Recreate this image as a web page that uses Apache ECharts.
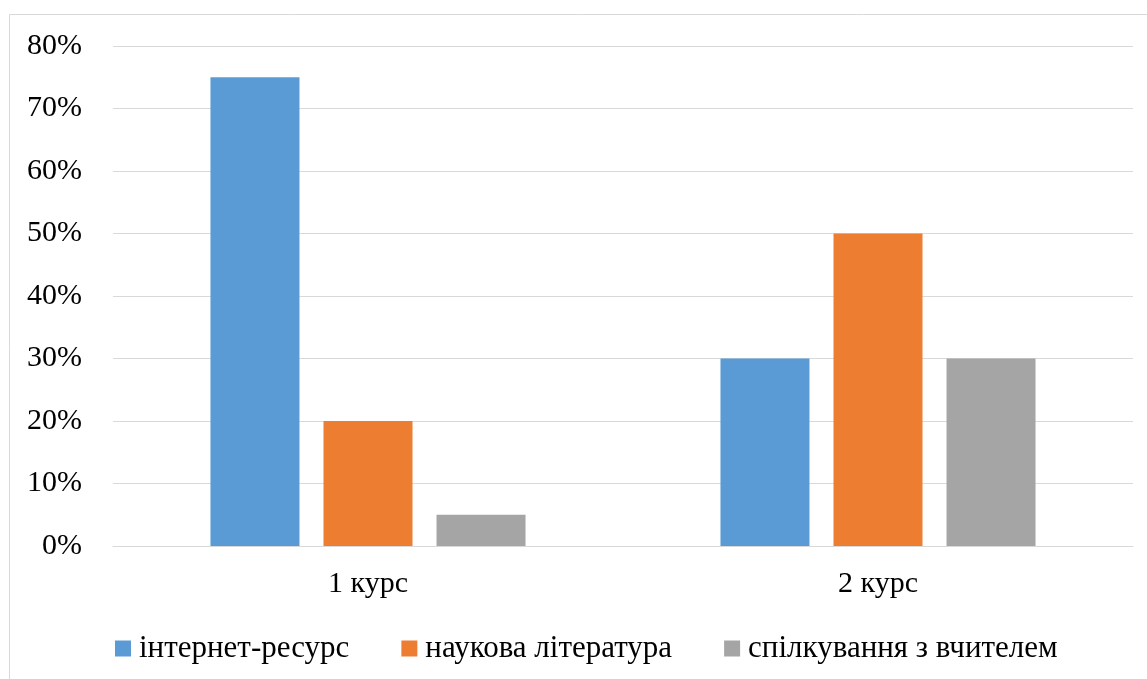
<!DOCTYPE html>
<html>
<head>
<meta charset="utf-8">
<script src="https://cdn.jsdelivr.net/npm/echarts@6/dist/echarts.min.js"></script>
<style>
  html, body { margin: 0; padding: 0; background: #fff; }
  #chart { width: 1147px; height: 679px; }
</style>
</head>
<body>
<div id="chart"></div>
<script>
// дані
const courses = ['1 курс', '2 курс'];
const internet = [75, 30];
const literature = [20, 50];
const teacher = [5, 30];
const seriesNames = ['інтернет-ресурс', 'наукова література', 'спілкування з вчителем'];
const colors = ['#5b9bd5', '#ed7d31', '#a5a5a5'];

const chart = echarts.init(document.getElementById('chart'), null, { renderer: 'canvas' });
const font = '"Liberation Serif", "Times New Roman", serif';

function bar(name, data, color) {
    return {
        name: name,
        type: 'bar',
        data: data,
        barWidth: 89,
        barGap: '27%',
        itemStyle: { color: color },
        animation: false
    };
}

const option = {
    animation: false,
    textStyle: { fontFamily: font },
    graphic: [{
        type: 'rect',
        shape: { x: 9.5, y: 14.5, width: 1200, height: 700 },
        style: { fill: 'none', stroke: '#d9d9d9', lineWidth: 1 }
    }],
    grid: { left: 113, right: 14, top: 46, bottom: 133 },
    legend: {
        top: 628,
        left: 110,
        itemWidth: 16,
        itemHeight: 16,
        itemGap: 52,
        icon: 'rect',
        textStyle: { fontFamily: font, fontSize: 31, color: '#000', padding: [0, 0, 0, 3] },
        data: seriesNames
    },
    xAxis: {
        type: 'category',
        data: courses,
        axisLine: { lineStyle: { color: '#d9d9d9', width: 1 } },
        axisTick: { show: false },
        axisLabel: { fontFamily: font, fontSize: 30, color: '#000', margin: 23 }
    },
    yAxis: {
        type: 'value',
        min: 0,
        max: 80,
        interval: 10,
        axisLine: { show: false },
        axisTick: { show: false },
        splitLine: { lineStyle: { color: '#d9d9d9', width: 1 } },
        axisLabel: { fontFamily: font, fontSize: 30, color: '#000', margin: 31, formatter: '{value}%' }
    },
    series: [
        bar(seriesNames[0], internet, colors[0]),
        bar(seriesNames[1], literature, colors[1]),
        bar(seriesNames[2], teacher, colors[2])
    ]
};

chart.setOption(option);
</script>
</body>
</html>
